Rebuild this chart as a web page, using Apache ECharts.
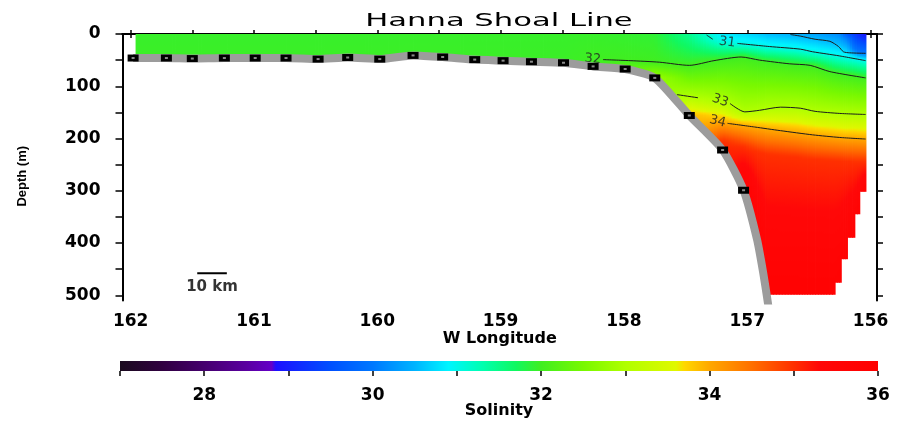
<!DOCTYPE html>
<html>
<head>
<meta charset="utf-8">
<title>Hanna Shoal Line</title>
<script src="https://cdn.jsdelivr.net/npm/echarts@6/dist/echarts.min.js"></script>
<style>
  html, body { margin: 0; padding: 0; background: #fff; }
  #chart { width: 899px; height: 421px; }
</style>
</head>
<body>
<div id="chart"></div>
<script>
// CTD stations along the line (deg W) and bottom depth at each (m)
const stationLon = [161.98, 161.71, 161.50, 161.24, 160.99, 160.74, 160.48, 160.24, 159.98, 159.71, 159.47,
  159.21, 158.98, 158.75, 158.49, 158.25, 157.99, 157.75, 157.47, 157.20, 157.03];
const stationDepth = [46, 46, 47, 46, 46, 46, 48, 45, 48, 41, 44, 49, 51, 53, 55, 62, 67, 84, 156, 222, 299];
// bottom keeps falling past the last station
const slopeLon = [156.92, 156.87, 156.84, 156.82];
const slopeDepth = [394, 458, 503, 535];

// salinity section, one column per entry (west -> east)
const colLon = [161.96, 161.71, 161.50, 161.24, 160.99, 160.74, 160.48, 160.24, 159.98, 159.71, 159.47,
  159.21, 158.98, 158.75, 158.49, 158.25, 157.99, 157.75, 157.47, 157.20, 157.03,
  156.92, 156.87, 156.84, 156.60, 156.45, 156.29, 156.24, 156.19, 156.13, 156.09, 156.04];
const colBottom = [46, 46, 47, 46, 46, 46, 48, 45, 48, 41, 44, 49, 51, 53, 55, 62, 67, 84, 156, 222, 299,
  394, 458, 499, 499, 499, 499, 476, 431, 390, 345, 302];
const surfSal = [31.95, 31.95, 31.95, 31.95, 31.95, 31.95, 31.95, 31.95, 31.95, 31.95, 31.95,
  31.95, 31.95, 31.95, 31.95, 31.95, 31.93, 31.9, 31.45, 30.85, 30.75,
  30.65, 30.6, 30.55, 30.45, 30.35, 30.2, 30.1, 29.6, 29.3, 29.1, 28.9];
// depth (m) of each isohaline in every column, null where absent
const iso30 = [null, null, null, null, null, null, null, null, null, null, null,
  null, null, null, null, null, null, null, null, null, null,
  null, null, null, null, null, null, null, 8, 30, 36, 37];
const iso31 = [null, null, null, null, null, null, null, null, null, null, null,
  null, null, null, null, null, null, null, null, 13, 19,
  21, 23, 24, 28, 34, 40, 42, 44, 47, 49, 51];
const iso32 = [null, null, null, null, null, null, null, null, null, null, null,
  null, null, null, null, 56, 50, 53, 59, 49, 44,
  50, 52, 53, 59, 61, 74, 76, 78, 80, 82, 84];
const iso33 = [null, null, null, null, null, null, null, null, null, null, null,
  null, null, null, null, null, null, null, 120, 130, 149,
  146, 144, 142, 142, 148, 151, 152, 153, 153, 154, 154];
const iso34 = [null, null, null, null, null, null, null, null, null, null, null,
  null, null, null, null, null, null, null, null, 168, 175,
  179, 180, 182, 188, 193, 197, 198, 199, 199, 200, 201];
const iso35 = [null, null, null, null, null, null, null, null, null, null, null,
  null, null, null, null, null, null, null, null, 205, 215,
  225, 228, 230, 235, 240, 242, 243, 244, 245, 245, 245];
const bottomSal = [31.97, 31.97, 31.97, 31.97, 31.97, 31.97, 31.97, 31.97, 31.97, 31.97, 31.97,
  31.97, 31.97, 31.97, 31.97, 32.1, 32.3, 32.8, 33.9, 35.1, 35.8,
  35.8, 35.8, 35.8, 35.8, 35.8, 35.8, 35.8, 35.8, 35.8, 35.8, 35.8];
// east of this longitude the data reach less deep (stepped edge)
const edgeStartLon = 156.29;

// contour lines; null marks the gap left for the label
const c30Lon = [156.65, 156.57, 156.45, 156.33, 156.26, 156.22, 156.17, 156.04];
const c30Depth = [1, 4, 10, 14, 24, 34, 36, 37];
const c31Lon = [157.33, 157.28, null, 157.08, 156.82, 156.57, 156.47, 156.36, 156.25, 156.04];
const c31Depth = [2, 10, null, 18, 24, 29, 34, 38, 42, 51];
const c32Lon = [158.17, 157.95, 157.71, 157.47, 157.27, 157.05, 156.90, 156.66, 156.49, 156.33, 156.04];
const c32Depth = [49, 51, 54, 60, 51, 44, 50, 57, 60, 72, 84];
const c33Lon = [157.57, 157.40, null, 157.14, 157.02, 156.90, 156.73, 156.57, 156.45, 156.25, 156.04];
const c33Depth = [116, 122, null, 133, 149, 146, 140, 142, 148, 152, 154];
const c34Lon = [157.16, 156.94, 156.73, 156.47, 156.25, 156.04];
const c34Depth = [171, 178, 185, 193, 198, 201];

// 10 km scale bar
const scaleBarLon = [161.46, 161.22];
const scaleBarDepth = 458;

const lonTicks = [162, 161, 160, 159, 158, 157, 156];
const lonMinorTicks = [162, 161.5, 161, 160.5, 160, 159.5, 159, 158.5, 158, 157.5, 157, 156.5, 156];
const depthTicks = [0, 100, 200, 300, 400, 500];
const depthMinorTicks = [0, 50, 100, 150, 200, 250, 300, 350, 400, 450, 500];
const salTicks = [28, 30, 32, 34, 36];
const salMinorTicks = [27, 28, 29, 30, 31, 32, 33, 34, 35, 36];

// colour scale of the salinity bar
const cmapVal = [27, 27.5, 28, 28.5, 28.8, 28.85, 29.5, 30, 30.5, 30.9, 31.3, 31.7, 32, 32.5, 33, 33.6, 33.7,
  34, 34.5, 35, 35.3, 36];
const cmapColor = ['#1a0a1e', '#300040', '#45006e', '#5a00a0', '#6400c8', '#1c10ff', '#0050ff', '#0078ff',
  '#00b4ff', '#00f5ff', '#00ffb0', '#10f860', '#40ee20', '#78f800', '#b0ff00', '#e0f800', '#ffd800',
  '#ffa800', '#ff7000', '#ff3000', '#ff0808', '#ff0000'];

const cmapRgb = cmapColor.map(h => [parseInt(h.slice(1, 3), 16), parseInt(h.slice(3, 5), 16), parseInt(h.slice(5, 7), 16)]);
function colorAt(v) {
  let k = 1;
  while (k < cmapVal.length - 1 && v > cmapVal[k]) k++;
  let f = (v - cmapVal[k - 1]) / (cmapVal[k] - cmapVal[k - 1]);
  f = Math.max(0, Math.min(1, f));
  const a = cmapRgb[k - 1], b = cmapRgb[k];
  return 'rgb(' + [0, 1, 2].map(j => Math.round(a[j] + (b[j] - a[j]) * f)).join(',') + ')';
}

const isoLevels = [30, 31, 32, 33, 34, 35];
const isoDepth = [iso30, iso31, iso32, iso33, iso34, iso35];

function profile(i) {
  const pts = [[0, surfSal[i]]];
  isoLevels.forEach((lev, k) => {
    const d = isoDepth[k][i];
    if (d != null && d < colBottom[i] && d > pts[pts.length - 1][0]) pts.push([d, lev]);
  });
  pts.push([colBottom[i], bottomSal[i]]);
  return pts;
}
function valueAt(pts, d) {
  if (d <= pts[0][0]) return pts[0][1];
  for (let k = 1; k < pts.length; k++) {
    if (d <= pts[k][0]) {
      const f = (d - pts[k - 1][0]) / (pts[k][0] - pts[k - 1][0]);
      return pts[k - 1][1] + (pts[k][1] - pts[k - 1][1]) * f;
    }
  }
  return pts[pts.length - 1][1];
}
const lerp = (a, b, t) => a + (b - a) * t;

function renderField(params, api) {
  const i = api.value(2);
  const pa = profile(i), pb = profile(i + 1);
  const xa = api.coord([colLon[i], 0])[0];
  const xb = api.coord([colLon[i + 1], 0])[0];
  const yOf = d => api.coord([colLon[i], d])[1];
  const y0 = yOf(0), yMax = yOf(510);
  const stepped = colLon[i] <= edgeStartLon + 1e-6;
  const n = Math.max(1, Math.ceil((xb - xa) / 3));
  const children = [];
  for (let k = 0; k < n; k++) {
    const t0 = k / n, t1 = (k + 1) / n, tm = (t0 + t1) / 2;
    const b0 = stepped ? colBottom[i + 1] : lerp(colBottom[i], colBottom[i + 1], t0);
    const b1 = stepped ? colBottom[i + 1] : lerp(colBottom[i], colBottom[i + 1], t1);
    const bMax = Math.max(b0, b1);
    const stops = [];
    for (let d = 0; d <= bMax + 4; d += 4) {
      const v = lerp(valueAt(pa, d), valueAt(pb, d), tm);
      stops.push({ offset: (yOf(d) - y0) / (yMax - y0), color: colorAt(v) });
    }
    const x0 = lerp(xa, xb, t0);
    const x1 = lerp(xa, xb, t1) + 0.8;
    children.push({
      type: 'polygon',
      shape: { points: [[x0, y0], [x1, y0], [x1, yOf(b1)], [x0, yOf(b0)]] },
      style: { fill: new echarts.graphic.LinearGradient(0, y0, 0, yMax, stops, true) }
    });
  }
  return { type: 'group', children };
}

function renderColorbar(params, api) {
  const p0 = api.coord([cmapVal[0], 1]);
  const p1 = api.coord([cmapVal[cmapVal.length - 1], 0]);
  const span = cmapVal[cmapVal.length - 1] - cmapVal[0];
  const stops = cmapVal.map((v, k) => ({ offset: (v - cmapVal[0]) / span, color: cmapColor[k] }));
  return {
    type: 'rect',
    shape: { x: p0[0], y: p0[1], width: p1[0] - p0[0], height: p1[1] - p0[1] },
    style: { fill: new echarts.graphic.LinearGradient(p0[0], 0, p1[0], 0, stops, true) }
  };
}

const toPairs = (xs, ys) => xs.map((x, k) => (x == null ? ['-', '-'] : [x, ys[k]]));
function labelPoint(xs, ys) {
  const g = xs.indexOf(null);
  const k = g < 0 ? 0 : g + 1;
  return [xs[k], ys[k]];
}

const contours = [
  { lon: c30Lon, depth: c30Depth, text: null },
  { lon: c31Lon, depth: c31Depth, text: '31', rotate: -8 },
  { lon: c32Lon, depth: c32Depth, text: '32', rotate: -4 },
  { lon: c33Lon, depth: c33Depth, text: '33', rotate: -20 },
  { lon: c34Lon, depth: c34Depth, text: '34', rotate: -14 }
];

const tickFont = { fontFamily: 'DejaVu Sans', fontWeight: 'bold', fontSize: 17, color: '#000' };
const axisLine = { show: true, lineStyle: { color: '#000', width: 2 } };

const series = [{
  type: 'custom',
  renderItem: renderField,
  data: colLon.slice(0, -1).map((x, i) => [x, colLon[i + 1], i]),
  encode: { x: [0, 1] },
  silent: true,
  z: 1
}];
contours.forEach(c => {
  series.push({
    type: 'line',
    data: toPairs(c.lon, c.depth),
    symbol: 'none',
    smooth: 0.25,
    connectNulls: false,
    lineStyle: { color: '#1c1c1c', width: 1 },
    silent: true,
    z: 2
  });
});
series.push({
  type: 'scatter',
  symbolSize: 0,
  data: contours.filter(c => c.text).map(c => ({
    value: labelPoint(c.lon, c.depth).concat(c.text),
    label: { rotate: c.rotate }
  })),
  label: {
    show: true, position: 'left', distance: 2,
    formatter: p => p.value[2],
    fontFamily: 'DejaVu Sans', fontSize: 13, color: '#222'
  },
  silent: true,
  z: 3
});
series.push({
  type: 'line',
  data: toPairs(stationLon.concat(slopeLon), stationDepth.concat(slopeDepth)),
  symbol: 'none',
  smooth: 0.2,
  lineStyle: { color: '#9c9c9c', width: 8 },
  silent: true,
  z: 4
});
series.push({
  type: 'scatter',
  data: toPairs(stationLon, stationDepth),
  symbol: 'rect',
  symbolSize: [11, 7],
  itemStyle: { color: '#000', opacity: 1 },
  silent: true,
  z: 5
});
series.push({
  type: 'scatter',
  data: toPairs(stationLon, stationDepth),
  symbol: 'rect',
  symbolSize: [3, 2],
  itemStyle: { color: '#8a8a8a', opacity: 1 },
  silent: true,
  z: 6
});
series.push({
  type: 'line',
  data: scaleBarLon.map(x => [x, scaleBarDepth]),
  symbol: 'none',
  lineStyle: { color: '#000', width: 2 },
  silent: true,
  z: 5
});
series.push({
  type: 'scatter',
  symbolSize: 0,
  data: [[(scaleBarLon[0] + scaleBarLon[1]) / 2, scaleBarDepth]],
  label: {
    show: true, position: 'bottom', distance: 6, formatter: '10 km',
    fontFamily: 'DejaVu Sans', fontWeight: 'bold', fontSize: 15, color: '#000'
  },
  silent: true,
  z: 5
});
series.push({
  type: 'custom',
  renderItem: renderColorbar,
  xAxisIndex: 2,
  yAxisIndex: 2,
  data: [[cmapVal[0], cmapVal[cmapVal.length - 1], 0]],
  encode: { x: [0, 1] },
  silent: true
});

const chart = echarts.init(document.getElementById('chart'), null, { renderer: 'canvas' });
chart.setOption({
  animation: false,
  backgroundColor: '#fff',
  graphic: [{
    type: 'text',
    x: 499, y: 21,
    scaleX: 1.7,
    style: {
      text: 'Hanna Shoal Line',
      fontFamily: 'DejaVu Sans', fontSize: 18, fill: '#000',
      align: 'center', verticalAlign: 'middle'
    }
  }],
  grid: [
    { left: 122.5, right: 22, top: 34, bottom: 120.5 },
    { left: 120, right: 21, top: 361, height: 10 }
  ],
  xAxis: [{
    type: 'value', gridIndex: 0, position: 'bottom',
    min: 155.948, max: 162.066, inverse: true,
    axisLine,
    axisTick: { show: true, customValues: lonMinorTicks, length: 4, lineStyle: { color: '#000', width: 1.5 } },
    axisLabel: Object.assign({ customValues: lonTicks, margin: 13 }, tickFont),
    splitLine: { show: false },
    name: 'W Longitude', nameLocation: 'middle', nameGap: 30, nameMoveOverlap: false,
    nameTextStyle: { fontFamily: 'DejaVu Sans', fontWeight: 'bold', fontSize: 16, color: '#000' }
  }, {
    type: 'value', gridIndex: 0, position: 'top',
    min: 155.948, max: 162.066, inverse: true,
    axisLine,
    axisTick: { show: true, customValues: lonMinorTicks, length: 4, lineStyle: { color: '#000', width: 1.5 } },
    axisLabel: { show: false },
    splitLine: { show: false }
  }, {
    type: 'value', gridIndex: 1, position: 'bottom',
    min: 27, max: 36,
    axisLine: { show: false },
    axisTick: { show: true, customValues: salMinorTicks, length: 5, lineStyle: { color: '#000', width: 1.5 } },
    axisLabel: Object.assign({ customValues: salTicks, margin: 16 }, tickFont),
    splitLine: { show: false },
    name: 'Solinity', nameLocation: 'middle', nameGap: 32, nameMoveOverlap: false,
    nameTextStyle: { fontFamily: 'DejaVu Sans', fontWeight: 'bold', fontSize: 16, color: '#000' }
  }],
  yAxis: [{
    type: 'value', gridIndex: 0, position: 'left',
    min: 0, max: 510, inverse: true,
    axisLine,
    axisTick: { show: true, customValues: depthMinorTicks, length: 7, lineStyle: { color: '#000', width: 1.5 } },
    axisLabel: Object.assign({ customValues: depthTicks, margin: 22 }, tickFont),
    splitLine: { show: false },
    name: 'Depth (m)', nameLocation: 'middle', nameRotate: 90, nameGap: 94, nameMoveOverlap: false,
    nameTextStyle: {
      fontFamily: 'Liberation Sans', fontWeight: 'bold', fontSize: 13, color: '#000',
      padding: [0, 18, 0, 0]
    }
  }, {
    type: 'value', gridIndex: 0, position: 'right',
    min: 0, max: 510, inverse: true,
    axisLine,
    axisTick: { show: true, customValues: depthMinorTicks, length: 6, lineStyle: { color: '#000', width: 1.5 } },
    axisLabel: { show: false },
    splitLine: { show: false }
  }, {
    type: 'value', gridIndex: 1, min: 0, max: 1, show: false
  }],
  series
});
</script>
</body>
</html>
